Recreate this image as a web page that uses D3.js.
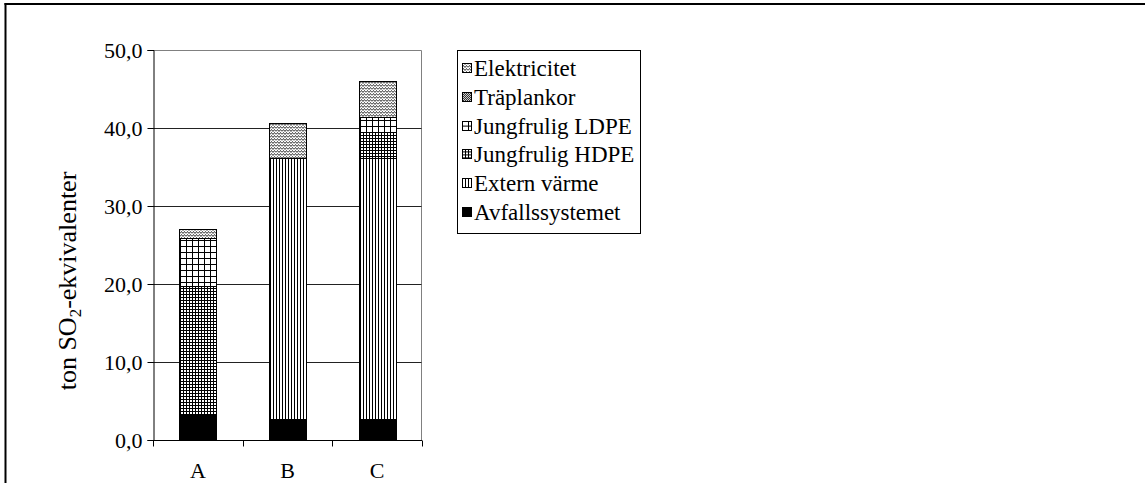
<!DOCTYPE html>
<html>
<head>
<meta charset="utf-8">
<script src="https://cdn.jsdelivr.net/npm/d3@7"></script>
<style>
  html, body { margin: 0; padding: 0; background: #fff; }
  svg { display: block; }
</style>
</head>
<body>
<svg id="chart" width="1145" height="483" font-family="Liberation Serif"></svg>
<script>
// ---- Data ----
const categories = ["A", "B", "C"];
const seriesNames = ["Avfallssystemet", "Extern värme", "Jungfrulig HDPE", "Jungfrulig LDPE", "Träplankor", "Elektricitet"];
const avfallssystemet = [3.2, 2.7, 2.7];
const externVarme     = [0, 33.5, 33.5];
const jungfruligHDPE  = [16.5, 0, 3.3];
const jungfruligLDPE  = [6.2, 0, 1.9];
const traplankor      = [0, 0, 0];
const elektricitet    = [1.1, 4.5, 4.6];
const yTicks = [0, 10, 20, 30, 40, 50];
const yTitle = "ton SO";
const yTitleSub = "2";
const yTitleEnd = "-ekvivalenter";

// ---- Layout ----
const SERIF = "'Liberation Serif', 'Times New Roman', serif";
const svg = d3.select("#chart");
const plot = { left: 153, right: 422, top: 50, bottom: 440 };
const FS = 22;

const seriesValues = [avfallssystemet, externVarme, jungfruligHDPE, jungfruligLDPE, traplankor, elektricitet];
const rows = categories.map((c, i) => {
  const r = { cat: c };
  seriesNames.forEach((s, j) => r[s] = seriesValues[j][i]);
  return r;
});
const stacked = d3.stack().keys(seriesNames)(rows);

const x = d3.scaleBand().domain(categories).range([plot.left, plot.right]).paddingInner(0.59).paddingOuter(0.295);
const y = d3.scaleLinear().domain([0, 50]).range([plot.bottom, plot.top]);

// ---- Patterns ----
const defs = svg.append("defs");
function pat(id, w, h, draw) {
  const p = defs.append("pattern").attr("id", id).attr("patternUnits", "userSpaceOnUse")
    .attr("width", w).attr("height", h);
  p.append("rect").attr("width", w).attr("height", h).attr("fill", "#fff");
  draw(p);
}
pat("p-vert", 3, 6, p => p.append("rect").attr("x", 0).attr("y", 0).attr("width", 1).attr("height", 6).attr("fill", "#000"));
pat("p-hdpe", 3, 3, p => {
  p.append("rect").attr("x", 0).attr("y", 0).attr("width", 1).attr("height", 3).attr("fill", "#000");
  p.append("rect").attr("x", 0).attr("y", 0).attr("width", 3).attr("height", 1).attr("fill", "#000");
});
pat("p-ldpe", 6, 6, p => {
  p.append("rect").attr("x", 0).attr("y", 0).attr("width", 1).attr("height", 6).attr("fill", "#000");
  p.append("rect").attr("x", 0).attr("y", 0).attr("width", 6).attr("height", 1).attr("fill", "#000");
});
pat("p-tra", 2, 2, p => {
  p.append("rect").attr("x", 0).attr("y", 0).attr("width", 1).attr("height", 1).attr("fill", "#000");
  p.append("rect").attr("x", 1).attr("y", 1).attr("width", 1).attr("height", 1).attr("fill", "#000");
});
pat("p-el", 6, 3, p => {
  p.append("path").attr("d", "M0,2.5 L1.5,0.5 L3,2.5 L4.5,0.5 L6,2.5").attr("fill", "none")
    .attr("stroke", "#222").attr("stroke-width", 0.9);
});
const fills = {
  "Avfallssystemet": "#000",
  "Extern värme": "url(#p-vert)",
  "Jungfrulig HDPE": "url(#p-hdpe)",
  "Jungfrulig LDPE": "url(#p-ldpe)",
  "Träplankor": "url(#p-tra)",
  "Elektricitet": "url(#p-el)"
};

// ---- Outer frame ----
svg.append("line").attr("x1", 4.5).attr("x2", 1145).attr("y1", 4).attr("y2", 4)
  .attr("stroke", "#000").attr("stroke-width", 2);
svg.append("line").attr("x1", 5.5).attr("x2", 5.5).attr("y1", 3).attr("y2", 483)
  .attr("stroke", "#000").attr("stroke-width", 2);

// ---- Plot area border (top/right) ----
svg.append("path")
  .attr("d", `M${plot.left},${plot.top + 0.5}H${plot.right - 0.5}V${plot.bottom}`)
  .attr("fill", "none").attr("stroke", "#808080").attr("stroke-width", 1);

// ---- Gridlines ----
svg.append("g").selectAll("line").data(yTicks.filter(t => t > 0 && t < 50)).join("line")
  .attr("x1", plot.left).attr("x2", plot.right - 0.5)
  .attr("y1", d => Math.round(y(d)) + 0.5).attr("y2", d => Math.round(y(d)) + 0.5)
  .attr("stroke", "#222").attr("stroke-width", 1);

// ---- Bars ----
const gBars = svg.append("g").attr("shape-rendering", "crispEdges");
stacked.forEach(layer => {
  gBars.append("g").selectAll("rect")
    .data(layer.filter(d => d[1] - d[0] > 0))
    .join("rect")
    .attr("x", d => Math.round(x(d.data.cat)) + 0.5)
    .attr("width", Math.round(x.bandwidth()))
    .attr("y", d => Math.round(y(d[1])) + 0.5)
    .attr("height", d => Math.round(y(d[0])) - Math.round(y(d[1])))
    .attr("fill", fills[layer.key])
    .attr("stroke", "#000").attr("stroke-width", 1);
});

// ---- Y axis ----
const yAxis = d3.axisLeft(y).tickValues(yTicks).tickSize(6).tickPadding(5)
  .tickFormat(d => d3.format(".1f")(d).replace(".", ","));
const gy = svg.append("g").attr("transform", `translate(${plot.left + 0.5},0)`).call(yAxis);
gy.attr("font-family", null).attr("font-size", null);
gy.select(".domain").attr("stroke", "#000");
gy.selectAll(".tick line").attr("stroke", "#000");
gy.selectAll(".tick text").style("font-family", SERIF).style("font-size", FS + "px").attr("fill", "#000");

// ---- X axis ----
const xAxis = d3.axisBottom(x).tickSize(0).tickPadding(22);
const gx = svg.append("g").attr("transform", `translate(0,${plot.bottom + 0.5})`).call(xAxis);
gx.attr("font-family", null).attr("font-size", null);
gx.select(".domain").attr("d", `M${plot.left},0H${plot.right}`).attr("stroke", "#000");
gx.selectAll(".tick text").style("font-family", SERIF).style("font-size", FS + "px").attr("fill", "#000");
const step = x.step();
const boundaries = d3.range(categories.length + 1).map(i => plot.left + i * step);
gx.append("g").selectAll("line").data(boundaries).join("line")
  .attr("x1", d => Math.round(d) + 0.5).attr("x2", d => Math.round(d) + 0.5)
  .attr("y1", 0).attr("y2", 6).attr("stroke", "#000");

// ---- Y title ----
const yt = svg.append("text")
  .attr("transform", `translate(76,281) rotate(-90)`)
  .attr("text-anchor", "middle")
  .style("font-family", SERIF).style("font-size", "26px");
yt.append("tspan").text(yTitle);
yt.append("tspan").style("font-size", "17px").attr("dy", 5).text(yTitleSub);
yt.append("tspan").attr("dy", -5).text(yTitleEnd);

// ---- Legend ----
const legendOrder = seriesNames.slice().reverse();
const lg = svg.append("g");
lg.append("rect").attr("x", 457.5).attr("y", 50.5).attr("width", 183).attr("height", 183)
  .attr("fill", "#fff").attr("stroke", "#000");
const li = lg.selectAll("g.item").data(legendOrder).join("g").attr("class", "item")
  .attr("transform", (d, i) => `translate(0,${68 + i * 28.8})`);
li.append("rect").attr("x", 462.5).attr("y", -4.5).attr("width", 9).attr("height", 9)
  .attr("fill", d => fills[d]).attr("stroke", "#000").attr("shape-rendering", "crispEdges");
li.append("text").attr("x", 474).attr("y", 0).attr("dy", "0.35em")
  .style("font-family", SERIF).style("font-size", "23px").text(d => d);
</script>
</body>
</html>
